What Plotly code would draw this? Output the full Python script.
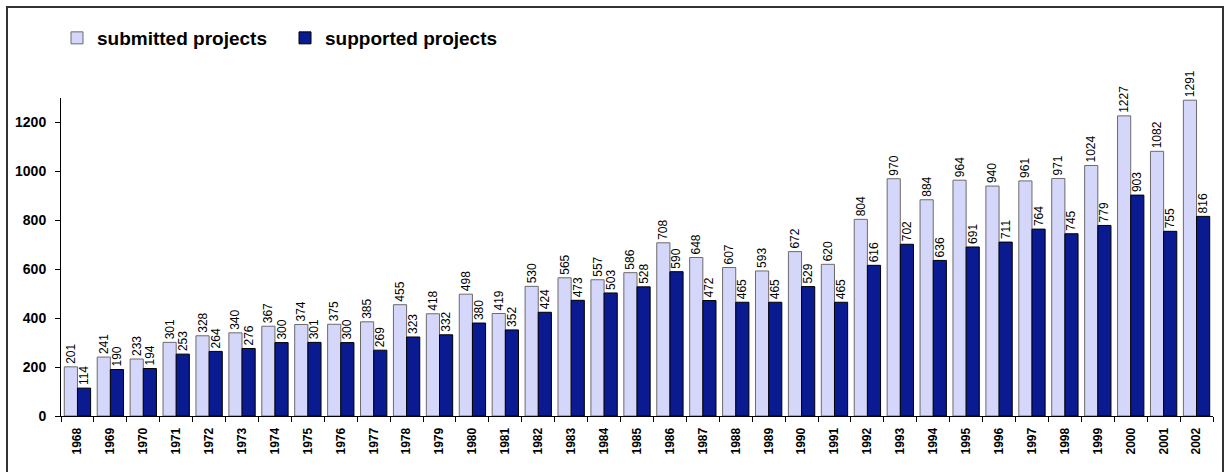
import plotly.graph_objects as go

years = [str(y) for y in range(1968, 2003)]
submitted = [201, 241, 233, 301, 328, 340, 367, 374, 375, 385, 455, 418, 498, 419, 530, 565, 557, 586,
             708, 648, 607, 593, 672, 620, 804, 970, 884, 964, 940, 961, 971, 1024, 1227, 1082, 1291]
supported = [114, 190, 194, 253, 264, 276, 300, 301, 300, 269, 323, 332, 380, 352, 424, 473, 503, 528,
             590, 472, 465, 465, 529, 465, 616, 702, 636, 691, 711, 764, 745, 779, 903, 755, 816]
y_ticks = [0, 200, 400, 600, 800, 1000, 1200]

font_family = "Liberation Sans, Arial, sans-serif"

fig = go.Figure()
fig.add_trace(go.Bar(
    x=years, y=submitted, name="submitted projects",
    marker=dict(color="#D4D6FA", line=dict(color="#6b6b6b", width=1)),
    text=[str(v) for v in submitted], textposition="outside", textangle=-90,
    textfont=dict(family=font_family, size=12, color="black"),
    cliponaxis=False,
))
fig.add_trace(go.Bar(
    x=years, y=supported, name="supported projects",
    marker=dict(color="#0A1A90", line=dict(color="black", width=1)),
    text=[str(v) for v in supported], textposition="outside", textangle=-90,
    textfont=dict(family=font_family, size=12, color="black"),
    cliponaxis=False,
))

PL, PR, PT, PB = 61, 1213, 98, 416
W, H = 1228, 472
pw, ph = PR - PL, PB - PT

fig.update_layout(
    width=W, height=H,
    margin=dict(l=PL, r=W - PR, t=PT, b=H - PB, autoexpand=False),
    paper_bgcolor="white", plot_bgcolor="white",
    barmode="group", bargap=0.2, bargroupgap=0,
    font=dict(family=font_family, color="black"),
    uniformtext=dict(minsize=12, mode="show"),
    legend=dict(
        orientation="h", x=(57 - PL) / pw, y=(PB - 38) / ph, xanchor="left", yanchor="middle",
        font=dict(family=font_family, size=19, color="black", weight="bold"),
        bgcolor="rgba(0,0,0,0)", entrywidth=183,
        traceorder="normal",
    ),
    showlegend=True,
)
fig.update_xaxes(
    type="category", tickangle=-90, showline=True, linecolor="black", linewidth=1,
    ticks="outside", ticklen=5, tickcolor="black", tickson="boundaries",
    tickfont=dict(family=font_family, size=12, color="black", weight="bold"),
    ticklabelstandoff=6,
    showgrid=False, automargin=False,
)
fig.update_yaxes(
    range=[0, 1300], tickvals=y_ticks, showline=True, linecolor="black", linewidth=1,
    ticks="outside", ticklen=5, tickcolor="black",
    tickfont=dict(family=font_family, size=14, color="black", weight="bold"),
    ticklabelstandoff=6,
    showgrid=False, zeroline=False, automargin=False,
)
# outer border
fig.add_shape(type="rect", xref="paper", yref="paper",
              x0=(7 - PL) / pw, x1=(1223 - PL) / pw,
              y0=(PB - 480) / ph, y1=(PB - 7) / ph,
              line=dict(color="#333333", width=2), fillcolor="rgba(0,0,0,0)", layer="below")

fig.write_html("out.html", config={"displayModeBar": False},
               post_script="document.body.style.margin='0';document.body.style.overflow='hidden';")
